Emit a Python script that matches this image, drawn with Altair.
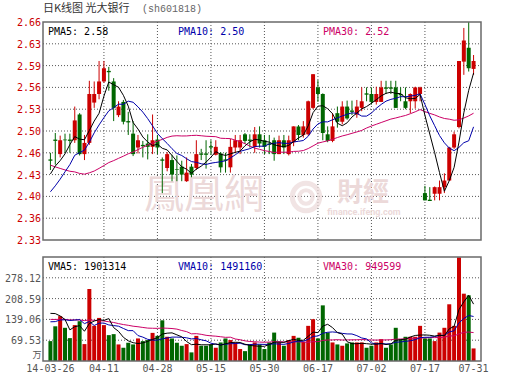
import altair as alt
import pandas as pd

# ---------------- data ----------------
opens = [
    2.452, 2.482, 2.460, 2.482, 2.482, 2.481, 2.520, 2.460, 2.477, 2.538,
    2.551, 2.570, 2.586, 2.570, 2.519, 2.539, 2.510, 2.491, 2.470, 2.474,
    2.476, 2.471, 2.482, 2.452, 2.439, 2.451, 2.437, 2.441, 2.419, 2.441,
    2.439, 2.461, 2.461, 2.472, 2.459, 2.461, 2.452, 2.440, 2.470, 2.470,
    2.490, 2.482, 2.471, 2.490, 2.481, 2.476, 2.481, 2.460, 2.481, 2.460,
    2.478, 2.502, 2.489, 2.490, 2.530, 2.561, 2.551, 2.490, 2.480, 2.522,
    2.509, 2.532, 2.526, 2.520, 2.530, 2.552, 2.551, 2.539, 2.539, 2.561,
    2.561, 2.561, 2.551, 2.540, 2.540, 2.540, 2.551, 2.401, 2.391, 2.400,
    2.400, 2.410, 2.420, 2.470, 2.501, 2.600, 2.621, 2.589]
highs = [
    2.462, 2.492, 2.488, 2.491, 2.491, 2.532, 2.522, 2.489, 2.571, 2.570,
    2.601, 2.601, 2.592, 2.575, 2.540, 2.542, 2.524, 2.510, 2.489, 2.480,
    2.490, 2.520, 2.489, 2.455, 2.463, 2.459, 2.458, 2.450, 2.455, 2.445,
    2.481, 2.468, 2.481, 2.481, 2.481, 2.463, 2.462, 2.483, 2.489, 2.489,
    2.492, 2.490, 2.501, 2.502, 2.489, 2.489, 2.485, 2.488, 2.489, 2.488,
    2.502, 2.504, 2.510, 2.541, 2.581, 2.572, 2.552, 2.502, 2.522, 2.532,
    2.540, 2.541, 2.541, 2.542, 2.561, 2.561, 2.561, 2.562, 2.571, 2.571,
    2.571, 2.571, 2.561, 2.561, 2.552, 2.562, 2.562, 2.412, 2.410, 2.411,
    2.420, 2.431, 2.471, 2.494, 2.601, 2.651, 2.660, 2.610]
lows = [
    2.436, 2.444, 2.455, 2.462, 2.462, 2.477, 2.458, 2.451, 2.474, 2.530,
    2.543, 2.568, 2.556, 2.510, 2.516, 2.505, 2.489, 2.457, 2.461, 2.455,
    2.452, 2.460, 2.460, 2.401, 2.434, 2.419, 2.419, 2.419, 2.418, 2.425,
    2.436, 2.451, 2.438, 2.459, 2.458, 2.432, 2.432, 2.432, 2.462, 2.460,
    2.476, 2.470, 2.462, 2.470, 2.460, 2.460, 2.450, 2.460, 2.460, 2.458,
    2.472, 2.481, 2.485, 2.488, 2.528, 2.539, 2.481, 2.478, 2.478, 2.500,
    2.505, 2.512, 2.519, 2.515, 2.525, 2.540, 2.535, 2.535, 2.539, 2.551,
    2.551, 2.530, 2.540, 2.528, 2.522, 2.529, 2.540, 2.390, 2.389, 2.390,
    2.390, 2.401, 2.420, 2.468, 2.499, 2.580, 2.585, 2.580]
closes = [
    2.450, 2.480, 2.481, 2.481, 2.480, 2.511, 2.460, 2.477, 2.551, 2.551,
    2.570, 2.590, 2.584, 2.530, 2.532, 2.509, 2.508, 2.460, 2.481, 2.472,
    2.471, 2.481, 2.470, 2.450, 2.460, 2.429, 2.436, 2.429, 2.432, 2.429,
    2.460, 2.459, 2.459, 2.470, 2.471, 2.440, 2.450, 2.471, 2.481, 2.481,
    2.480, 2.480, 2.490, 2.476, 2.471, 2.474, 2.460, 2.481, 2.470, 2.481,
    2.502, 2.489, 2.502, 2.540, 2.581, 2.551, 2.492, 2.480, 2.502, 2.509,
    2.532, 2.514, 2.524, 2.532, 2.540, 2.550, 2.539, 2.551, 2.561, 2.559,
    2.559, 2.530, 2.549, 2.530, 2.551, 2.561, 2.561, 2.390, 2.389, 2.410,
    2.410, 2.420, 2.470, 2.490, 2.601, 2.632, 2.590, 2.601]
# volume in 万
volumes = [
    66.5, 116, 150, 111, 76.5, 120, 133, 56.5, 240.6, 117.5,
    144, 120, 86.5, 89.8, 55.4, 44.3, 61, 55.4, 75.4, 66.5,
    70, 94, 84, 136, 81, 75.4, 61, 51, 56.5, 28.8,
    84, 51, 51, 55.4, 44.3, 62, 75.4, 70, 62, 40,
    33, 55.4, 62, 55.4, 40, 62, 95, 62, 51, 70,
    84, 77.6, 64, 117.5, 139.7, 75.4, 186, 95, 62, 55.4,
    51, 58.8, 62, 62, 62, 44.3, 51, 62, 73, 44.3,
    55.4, 111, 73, 81, 81, 81, 117.5, 75.4, 75.4, 66.5,
    95, 111, 189.6, 117.5, 346.6, 225, 219.5, 42]
# sessions before the first visible day (feed the moving averages only)
pre_closes = [2.56, 2.55, 2.55, 2.54, 2.54, 2.53, 2.51, 2.49, 2.47, 2.45,
              2.46, 2.45, 2.44, 2.43, 2.41, 2.40, 2.38, 2.37, 2.37, 2.37,
              2.39, 2.38, 2.37, 2.37, 2.37, 2.42, 2.44, 2.43, 2.41]
pre_volumes = [120, 130, 125, 128, 126, 130, 124.5, 170, 160, 175,
               155, 165, 160, 168.8, 140, 135, 145, 130, 138, 134.7,
               110, 95, 105, 100, 104, 120, 190, 170, 250]

price_ticks = [2.33, 2.363, 2.396, 2.429, 2.462, 2.495, 2.528, 2.561, 2.594, 2.627, 2.66]
price_tick_labels = ["2.33", "2.36", "2.40", "2.43", "2.46", "2.50", "2.53", "2.56", "2.59", "2.63", "2.66"]
vol_ticks = [69.53, 139.06, 208.59, 278.12]
vol_tick_labels = ["69.53", "139.06", "208.59", "278.12"]
vol_max = 347.65
date_idx = [0, 11, 22, 33, 44, 55, 66, 77, 87]
date_labels = ["14-03-26", "04-11", "04-28", "05-15", "05-30", "06-17", "07-02", "07-17", "07-31"]
price_legend = ["PMA5: 2.58", "PMA10: 2.50", "PMA30: 2.52"]
vol_legend = ["VMA5: 1901314", "VMA10: 1491160", "VMA30: 949599"]
title_main = "日K线图 光大银行"
title_code = "(sh601818)"

# ---------------- styling ----------------
RED = "#cc0000"
GREEN = "#006600"
BLUE = "#0000aa"
MAG = "#cc0066"
GRID = "#555555"
FRAME = "#6a6a6a"
PINK = "#ecd9d9"
MONO = "DejaVu Sans Mono"
CJK = "Noto Sans CJK SC"

W, H = 438, 339
P_TOP, P_BOT = 0, 218
V_TOP, V_BOT = 235, 339

n = len(closes)
main = pd.DataFrame({"idx": list(range(n)), "open": opens, "high": highs,
                     "low": lows, "close": closes, "vol": volumes})
pre = pd.DataFrame({"idx": list(range(-len(pre_closes), 0)),
                    "close": pre_closes, "vol": pre_volumes})
allrows = pd.concat([pre, main], ignore_index=True)
one = pd.DataFrame({"k": [0]})

xs = alt.Scale(domain=[-0.5, n - 0.5], nice=False, zero=False)
ps = alt.Scale(domain=[price_ticks[0], price_ticks[-1]], range=[P_BOT, P_TOP], nice=False, zero=False)
vs = alt.Scale(domain=[0, vol_max], range=[V_BOT, V_TOP], nice=False, zero=False)


def X(f):
    return alt.X(f, scale=xs, axis=None)


def YP(f):
    return alt.Y(f, scale=ps, axis=None)


def YV(f):
    return alt.Y(f, scale=vs, axis=None)


def label(text, x, y, color, size=10, font=MONO, align="left", weight="normal"):
    return alt.Chart(one).mark_text(
        align=align, baseline="middle", font=font, fontSize=size,
        color=color, fontWeight=weight
    ).encode(x=alt.value(x), y=alt.value(y), text=alt.value(text))


updown = alt.when("datum.close >= datum.open").then(alt.value(RED)).otherwise(alt.value(GREEN))

# grids
grid_p = alt.Chart(pd.DataFrame({"v": price_ticks[1:-1]})).mark_rule(
    color=GRID, strokeDash=[1, 2], strokeWidth=1
).encode(y=YP("v:Q"), x=alt.value(0), x2=alt.value(W))
grid_v = alt.Chart(pd.DataFrame({"v": vol_ticks})).mark_rule(
    color=GRID, strokeDash=[1, 2], strokeWidth=1
).encode(y=YV("v:Q"), x=alt.value(0), x2=alt.value(W))
vg = pd.DataFrame({"d": date_idx[1:-1]})
grid_xp = alt.Chart(vg).mark_rule(color=GRID, strokeDash=[1, 2], strokeWidth=1).encode(
    x=X("d:Q"), y=alt.value(P_TOP), y2=alt.value(P_BOT))
grid_xv = alt.Chart(vg).mark_rule(color=GRID, strokeDash=[1, 2], strokeWidth=1).encode(
    x=X("d:Q"), y=alt.value(V_TOP), y2=alt.value(V_BOT))

# watermark
wm1 = label("鳳凰網", 161, 174, PINK, size=40, font="Noto Sans CJK TC", align="center")
wm2 = label("財經", 320, 171, PINK, size=26, font="Noto Sans CJK TC", align="center", weight="bold")
wm3 = label("finance.ifeng.com", 321, 190, PINK, size=9, font="Roboto", align="center", weight="bold")
ring1 = alt.Chart(one).mark_point(shape="circle", filled=False, color=PINK, strokeWidth=5, size=750).encode(
    x=alt.value(263), y=alt.value(175))
ring2 = alt.Chart(one).mark_point(shape="circle", filled=False, color=PINK, strokeWidth=4, size=180).encode(
    x=alt.value(263), y=alt.value(175))

# candles
base = alt.Chart(main)
wicks = base.mark_rule(strokeWidth=1).encode(x=X("idx:Q"), y=YP("low:Q"), y2="high:Q", color=updown)
bodies = base.mark_bar(size=4).encode(x=X("idx:Q"), y=YP("open:Q"), y2="close:Q", color=updown)
vbars = base.mark_bar(size=4).encode(x=X("idx:Q"), y=YV("vol:Q"), color=updown)

# moving averages
ma = (alt.Chart(allrows)
      .transform_window(pma5="mean(close)", vma5="mean(vol)", frame=[-4, 0], sort=[alt.SortField("idx")])
      .transform_window(pma10="mean(close)", vma10="mean(vol)", frame=[-9, 0], sort=[alt.SortField("idx")])
      .transform_window(pma30="mean(close)", vma30="mean(vol)", frame=[-29, 0], sort=[alt.SortField("idx")])
      .transform_filter("datum.idx >= 0"))
lines = []
for f, c in [("pma30", MAG), ("pma10", BLUE), ("pma5", "#000000")]:
    lines.append(ma.mark_line(color=c, strokeWidth=1).encode(x=X("idx:Q"), y=YP(f + ":Q")))
for f, c in [("vma30", MAG), ("vma10", BLUE), ("vma5", "#000000")]:
    lines.append(ma.mark_line(color=c, strokeWidth=1).encode(x=X("idx:Q"), y=YV(f + ":Q")))

# frames
frame_p = alt.Chart(one).mark_rect(fillOpacity=0, stroke=FRAME, strokeWidth=1.5).encode(
    x=alt.value(0), x2=alt.value(W), y=alt.value(P_TOP), y2=alt.value(P_BOT))
frame_v = alt.Chart(one).mark_rect(fillOpacity=0, stroke=FRAME, strokeWidth=1.5).encode(
    x=alt.value(0), x2=alt.value(W), y=alt.value(V_TOP), y2=alt.value(V_BOT))

# axis labels
plab = alt.Chart(pd.DataFrame({"v": price_ticks, "t": price_tick_labels})).mark_text(
    align="right", baseline="middle", font=MONO, fontSize=10, color=RED, dy=1
).encode(y=YP("v:Q"), x=alt.value(-2), text="t:N")
vlab = alt.Chart(pd.DataFrame({"v": vol_ticks, "t": vol_tick_labels})).mark_text(
    align="right", baseline="middle", font=MONO, fontSize=10, color="#555555", dy=1
).encode(y=YV("v:Q"), x=alt.value(-2), text="t:N")
wan = label("万", -6, 333, "#555555", size=9, font=CJK, align="center")
dlab = alt.Chart(pd.DataFrame({"d": date_idx, "t": date_labels})).mark_text(
    align="center", baseline="middle", font=MONO, fontSize=10, color="#555555"
).encode(x=X("d:Q"), y=alt.value(347), text="t:N")

# in-panel legends
legs = [
    label(price_legend[0], 5, 10, "#000000"),
    label(price_legend[1], 135, 10, BLUE),
    label(price_legend[2], 280, 10, MAG),
    label(vol_legend[0], 5, 245, "#000000"),
    label(vol_legend[1], 135, 245, BLUE),
    label(vol_legend[2], 280, 245, MAG),
]

# title
t1 = label(title_main, 0, -13, "#333333", size=11, font=CJK)
t2 = label(title_code, 99, -13, "#666666", size=10, font="Liberation Mono")

layers = ([grid_p, grid_v, grid_xp, grid_xv, wm1, wm2, wm3, ring1, ring2,
           wicks, bodies, vbars] + lines +
          [frame_p, frame_v, plab, vlab, wan, dlab] + legs + [t1, t2])

chart = (alt.layer(*layers)
         .resolve_scale(y="independent")
         .properties(width=W, height=H,
                     autosize=alt.AutoSizeParams(type="none"),
                     padding={"left": 43, "top": 22, "right": 49, "bottom": 30},
                     background="white")
         .configure_view(stroke=None))

chart.save("out.html", embed_options={"renderer": "svg", "actions": False})
